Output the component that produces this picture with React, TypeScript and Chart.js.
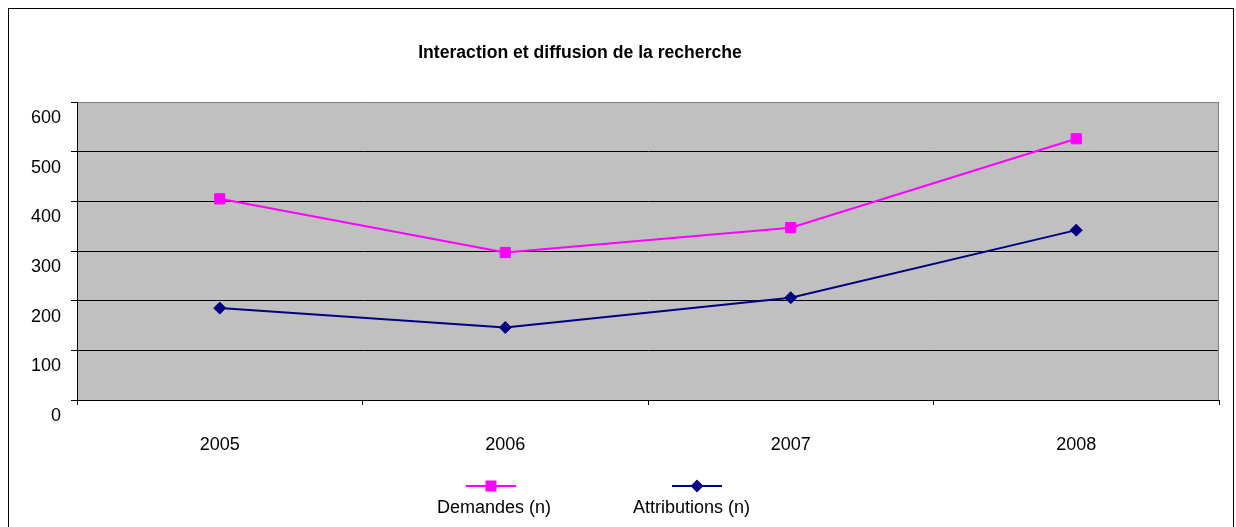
import { useEffect, useRef } from 'react';
import { Chart, registerables } from 'chart.js';

Chart.register(...registerables);

const TITLE = 'Interaction et diffusion de la recherche';
const CATEGORIES = ['2005', '2006', '2007', '2008'];
const DEMANDES = [405, 297, 347, 526];
const ATTRIBUTIONS = [185, 146, 206, 342];
const SERIES_NAMES = ['Demandes (n)', 'Attributions (n)'];
const Y_MIN = 0;
const Y_MAX = 600;
const Y_STEP = 100;

const FONT = '"Liberation Sans", Arial, sans-serif';
const MAGENTA = '#FF00FF';
const NAVY = '#000080';

// layout constants (not data)
const LEGEND_LAYOUT = [
  { textX: 437, lineX: 466, marker: 'square' },
  { textX: 633, lineX: 672, marker: 'diamond' },
];

const decoPlugin = {
  id: 'deco',
  beforeDraw(chart: any) {
    const { ctx, chartArea: a } = chart;
    ctx.save();
    ctx.fillStyle = '#ffffff';
    ctx.fillRect(0, 0, chart.width, chart.height);
    ctx.strokeStyle = '#000000';
    ctx.lineWidth = 1;
    ctx.strokeRect(8.5, 8.5, 1225, 700);
    ctx.fillStyle = '#C0C0C0';
    ctx.fillRect(a.left, a.top, a.right - a.left, a.bottom - a.top);
    ctx.restore();
  },
  beforeDatasetsDraw(chart: any) {
    const { ctx, chartArea: a } = chart;
    ctx.save();
    ctx.strokeStyle = '#808080';
    ctx.lineWidth = 1;
    ctx.beginPath();
    ctx.moveTo(Math.round(a.right) - 0.5, a.top);
    ctx.lineTo(Math.round(a.right) - 0.5, a.bottom);
    ctx.stroke();
    ctx.restore();
  },
  afterDraw(chart: any) {
    const { ctx } = chart;
    ctx.save();
    // title
    ctx.fillStyle = '#000';
    ctx.font = `bold 17.6px ${FONT}`;
    ctx.textAlign = 'center';
    ctx.textBaseline = 'middle';
    ctx.fillText(TITLE, 580, 53);
    // legend
    chart.data.datasets.forEach((ds: any, i: number) => {
      const L = LEGEND_LAYOUT[i];
      const y = 486;
      ctx.strokeStyle = ds.borderColor;
      ctx.lineWidth = 2;
      ctx.beginPath();
      ctx.moveTo(L.lineX, y);
      ctx.lineTo(L.lineX + 50, y);
      ctx.stroke();
      const cx = L.lineX + 25;
      ctx.fillStyle = ds.backgroundColor;
      ctx.beginPath();
      if (L.marker === 'square') {
        ctx.rect(cx - 5.5, y - 5.5, 11, 11);
      } else {
        ctx.moveTo(cx - 6.5, y);
        ctx.lineTo(cx, y - 6.5);
        ctx.lineTo(cx + 6.5, y);
        ctx.lineTo(cx, y + 6.5);
        ctx.closePath();
      }
      ctx.fill();
      ctx.fillStyle = '#000';
      ctx.font = `18px ${FONT}`;
      ctx.textAlign = 'left';
      ctx.textBaseline = 'middle';
      ctx.fillText(ds.label, L.textX, 508);
    });
    ctx.restore();
  },
};

export default function App() {
  const ref = useRef<HTMLCanvasElement | null>(null);

  useEffect(() => {
    if (!ref.current) return;
    const chart = new Chart(ref.current, {
      type: 'line',
      data: {
        labels: CATEGORIES,
        datasets: [
          {
            label: SERIES_NAMES[0],
            data: DEMANDES,
            borderColor: MAGENTA,
            backgroundColor: MAGENTA,
            borderWidth: 2,
            pointStyle: 'rect',
            pointRadius: 7.2,
            pointBorderWidth: 1,
            pointBorderColor: MAGENTA,
            pointBackgroundColor: MAGENTA,
            tension: 0,
          },
          {
            label: SERIES_NAMES[1],
            data: ATTRIBUTIONS,
            borderColor: NAVY,
            backgroundColor: NAVY,
            borderWidth: 2,
            pointStyle: 'rectRot',
            pointRadius: 6,
            pointBorderWidth: 1,
            pointBorderColor: NAVY,
            pointBackgroundColor: NAVY,
            tension: 0,
          },
        ],
      },
      options: {
        responsive: false,
        animation: false,
        devicePixelRatio: 1,
        layout: { padding: { left: 8, top: 102, right: 17, bottom: 67 } },
        plugins: {
          legend: { display: false },
          title: { display: false },
          tooltip: { enabled: false },
        },
        scales: {
          x: {
            type: 'category',
            offset: true,
            afterFit: (s: any) => {
              s.height = 60;
            },
            grid: {
              offset: true,
              drawOnChartArea: false,
              drawTicks: true,
              tickLength: 5,
              color: '#000',
              tickColor: '#000',
            },
            border: { display: true, color: '#000', width: 1 },
            ticks: {
              color: '#000',
              font: { family: FONT, size: 18 },
              padding: 29,
              maxRotation: 0,
            },
          },
          y: {
            min: Y_MIN,
            max: Y_MAX,
            afterFit: (s: any) => {
              s.width = 69;
            },
            grid: {
              color: (c: any) => (c.tick && c.tick.value === Y_MAX ? '#808080' : '#000'),
              tickColor: '#000',
              tickLength: 6,
              lineWidth: 1,
            },
            border: { display: true, color: '#000', width: 1 },
            ticks: {
              stepSize: Y_STEP,
              color: '#000',
              font: { family: FONT, size: 18 },
              padding: 10,
              labelOffset: 16,
            },
          },
        },
      },
      plugins: [decoPlugin],
    });
    return () => chart.destroy();
  }, []);

  return (
    <div style={{ position: 'fixed', left: 0, top: 0, width: 1236, height: 527, overflow: 'hidden', background: '#fff' }}>
      <canvas ref={ref} width={1236} height={527} style={{ display: 'block' }} />
    </div>
  );
}
